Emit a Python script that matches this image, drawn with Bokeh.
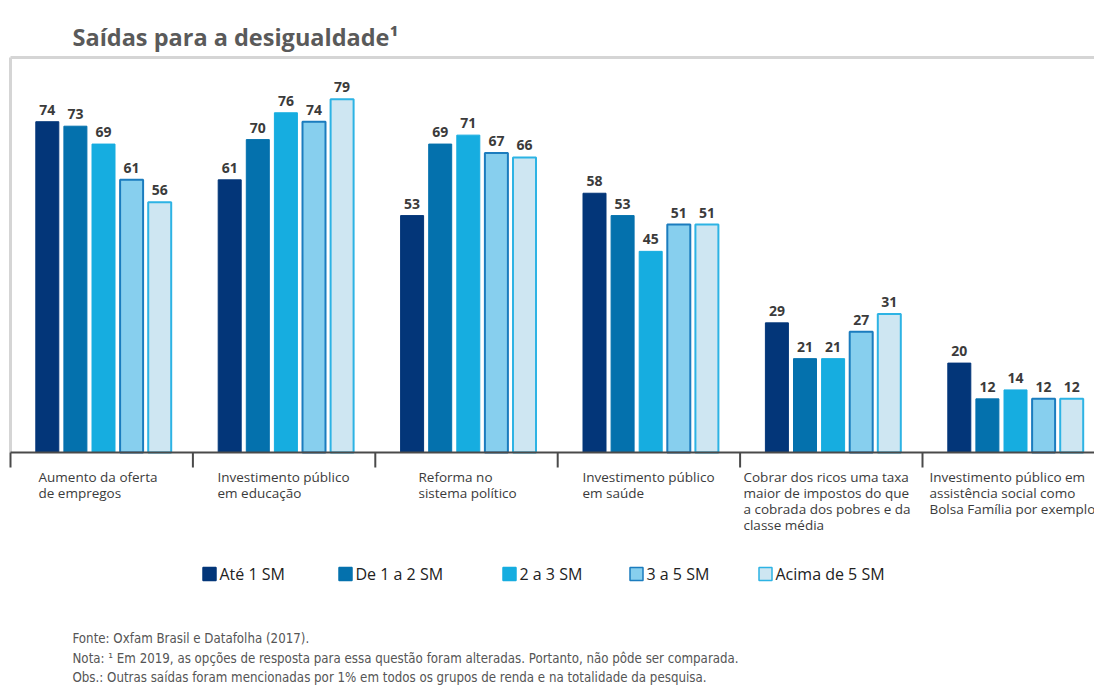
import numpy as np
from bokeh.plotting import figure
from bokeh.models import Range1d
from bokeh.core.properties import value
from bokeh.embed import file_html
from bokeh.resources import INLINE

# ---------------- data ----------------
title = "Saídas para a desigualdade¹"
categories = [
    "Aumento da oferta\nde empregos",
    "Investimento público\nem educação",
    "Reforma no\nsistema político",
    "Investimento público\nem saúde",
    "Cobrar dos ricos uma taxa\nmaior de impostos do que\na cobrada dos pobres e da\nclasse média",
    "Investimento público em\nassistência social como\nBolsa Família por exemplo",
]
series = ["Até 1 SM", "De 1 a 2 SM", "2 a 3 SM", "3 a 5 SM", "Acima de 5 SM"]
ate_1 = [74, 61, 53, 58, 29, 20]
de_1_a_2 = [73, 70, 69, 53, 21, 12]
de_2_a_3 = [69, 76, 71, 45, 21, 14]
de_3_a_5 = [61, 74, 67, 51, 27, 12]
acima_5 = [56, 79, 66, 51, 31, 12]
values = [ate_1, de_1_a_2, de_2_a_3, de_3_a_5, acima_5]
notes = [
    "Fonte: Oxfam Brasil e Datafolha (2017).",
    "Nota: ¹ Em 2019, as opções de resposta para essa questão foram alteradas. Portanto, não pôde ser comparada.",
    "Obs.: Outras saídas foram mencionadas por 1% em todos os grupos de renda e na totalidade da pesquisa.",
]

# ---------------- styles / layout ----------------
fills = ["#033679", "#0471ad", "#16ade0", "#87cfee", "#cee6f2"]
edges = ["#033679", "#0471ad", "#16ade0", "#1b7cbe", "#2db3e4"]
TXT = "#3b3b3b"
W, H = 1094, 686
GW = 182.4      # px per group
X0 = 10         # page px of first group boundary
BASE = 452      # page px of baseline
SY = 4.47       # px per percentage point


def X(px):
    return (px - X0) / GW


def Y(py):
    return (BASE - py) / SY


p = figure(width=W, height=H, title=None,
           x_range=Range1d(X(0), X(W)), y_range=Range1d(Y(H), Y(0)),
           x_axis_type=None, y_axis_type=None, min_border=0,
           toolbar_location=None, output_backend="svg",
           outline_line_color=None)
p.grid.visible = False

# frame (top + left light grey lines)
p.line([X(10), X(W)], [Y(57), Y(57)], line_color="#d5d5d5", line_width=3)
p.line([X(10), X(10)], [Y(57), 0], line_color="#d5d5d5", line_width=3)

# bars
n = len(categories)
for j, (vals, fc, lc) in enumerate(zip(values, fills, edges)):
    xs = np.arange(n) + (93 + (j - 2) * 28.1) / GW
    p.vbar(x=xs, top=vals, bottom=0, width=23 / GW, fill_color=fc,
           line_color=lc, line_width=2 if j >= 3 else 1)
    p.text(x=xs, y=vals, text=[str(v) for v in vals], text_align="center",
           text_baseline="bottom", y_offset=-7, text_color=TXT,
           text_font=value("Open Sans"), text_font_style="bold",
           text_font_size="14px")

# baseline + group ticks
p.line([X(10), X(W)], [0, 0], line_color="#4a4a4a", line_width=2)
p.segment(x0=list(range(n)), y0=[0] * n, x1=list(range(n)), y1=[Y(467)] * n,
          line_color="#4a4a4a", line_width=2)

# category labels
label_x = [38, 217, 418, 582, 743, 929]
p.text(x=[X(v) for v in label_x], y=[Y(467)] * n, text=categories,
       text_align="left", text_baseline="top", text_color=TXT,
       text_font=value("Open Sans"), text_font_size="13.5px",
       text_line_height=0.9)

# legend
leg_x = [202, 338, 502, 629, 758]
LY = 573.5
for lx, fc, lc, name in zip(leg_x, fills, edges, series):
    p.scatter(x=[X(lx + 7)], y=[Y(LY)], marker="square", size=13,
              fill_color=fc, line_color=lc, line_width=1.5)
    p.text(x=[X(lx + 17)], y=[Y(LY)], text=[name], text_align="left",
           text_baseline="middle", text_color="#222222",
           text_font=value("Open Sans"), text_font_size="16px")

# title
p.text(x=[X(72)], y=[Y(36)], text=[title], text_align="left",
       text_baseline="alphabetic", text_color="#5a5a5a",
       text_font=value("Open Sans"), text_font_style="bold",
       text_font_size="23.5px")

# notes
note_y = [638, 658, 677]
p.text(x=[X(72)] * 3, y=[Y(v) for v in note_y], text=notes,
       text_align="left", text_baseline="alphabetic", text_color="#555555",
       text_font=value("DejaVu Sans Condensed, Open Sans"),
       text_font_size="13.2px")

open("out.html", "w").write(file_html(p, INLINE))
